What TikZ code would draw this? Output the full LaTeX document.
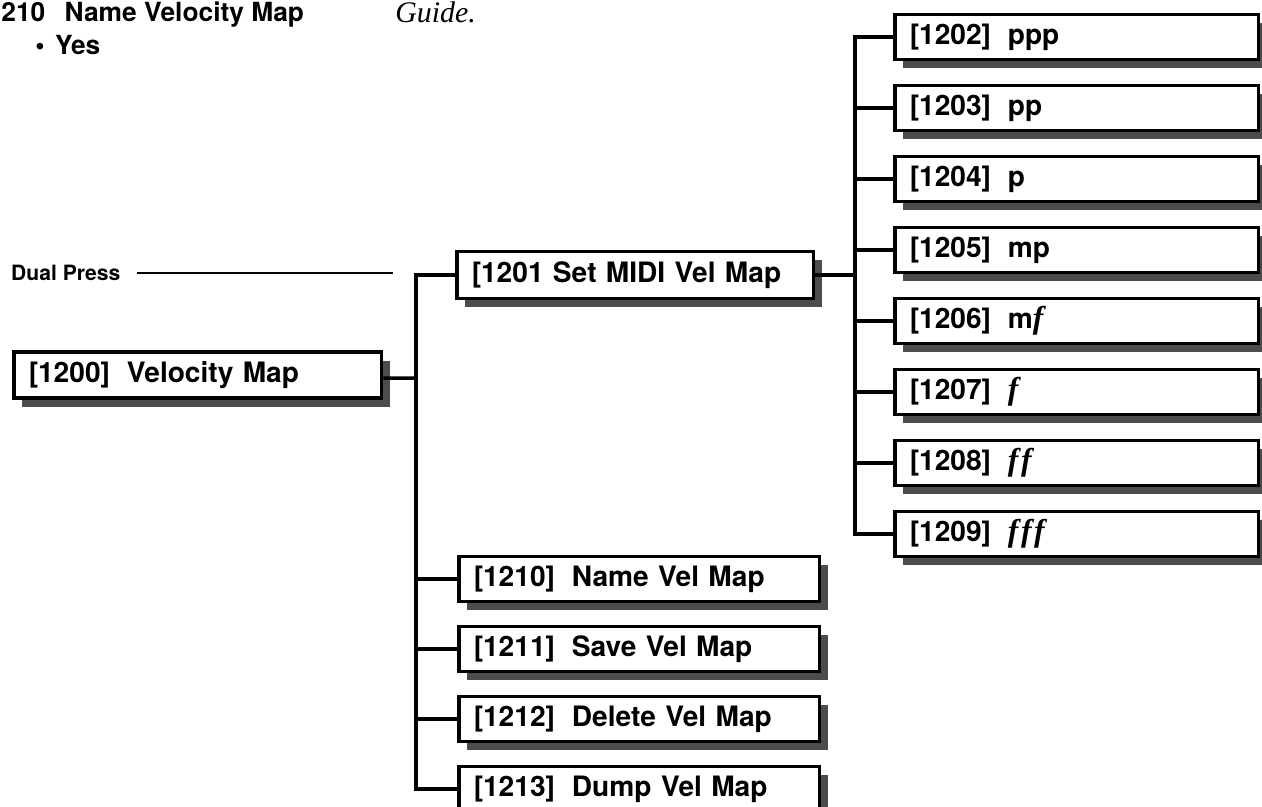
\documentclass[tikz,border=0pt]{standalone}
\usepackage{fontspec}
\setmainfont{TeX Gyre Heros}
\newfontfamily\dynfont{Liberation Serif}[Ligatures=NoCommon]
\usepackage{tikz}
\usetikzlibrary{positioning,shadows}
\newcommand{\dyn}[1]{{\dynfont\bfseries\itshape\fontsize{18}{18}\selectfont #1}}
\newcommand{\gap}{\hspace{0.6em}}

\begin{document}
\begin{tikzpicture}[
  x=0.02cm, y=-0.02cm,
  menu/.style={draw, line width=2pt, fill=white, anchor=west,
    font=\fontsize{16}{18}\selectfont\bfseries, align=left,
    inner xsep=0.3cm, inner ysep=0pt, minimum height=0.9cm,
    drop shadow={shadow xshift=0.16cm, shadow yshift=-0.17cm,
      fill=black!70, opacity=1}},
  leaf/.style={menu, text width=6.68cm},
  tail/.style={menu, text width=6.62cm},
  head/.style={font=\fontsize{15}{17}\selectfont\bfseries, anchor=base west, inner sep=0pt},
  small/.style={font=\fontsize{12}{14}\selectfont\bfseries, anchor=west},
  link/.style={line width=2pt},
  node distance=0.45cm
]
  \useasboundingbox (0,0) rectangle (1262,806);

  % page text above the chart
  \node[head] (title) at (1,21) {210\hspace{11pt}Name Velocity Map};
  \node[head] (yes) at (35,54) {\textbullet\hspace{6pt}Yes};
  \node[head, font=\dynfont\itshape\fontsize{17}{19}\selectfont] (guide) at (395,22) {Guide.};

  \node[menu, text width=6.76cm, minimum height=0.92cm] (root) at (12,375) {[1200]\gap Velocity Map};
  \node[menu, text width=6.54cm, minimum height=0.94cm] (mid) at (455,275) {[1201 Set MIDI Vel Map};

  % dynamics column
  \node[leaf] (n1202) at (893,37) {[1202]\gap ppp};
  \node[leaf, below=of n1202.south west, anchor=north west] (n1203) {[1203]\gap pp};
  \node[leaf, below=of n1203.south west, anchor=north west] (n1204) {[1204]\gap p};
  \node[leaf, below=of n1204.south west, anchor=north west] (n1205) {[1205]\gap mp};
  \node[leaf, below=of n1205.south west, anchor=north west] (n1206) {[1206]\gap m\dyn{f}};
  \node[leaf, below=of n1206.south west, anchor=north west] (n1207) {[1207]\gap \dyn{f}};
  \node[leaf, below=of n1207.south west, anchor=north west] (n1208) {[1208]\gap \dyn{f\kern1.5pt f}};
  \node[leaf, below=of n1208.south west, anchor=north west] (n1209) {[1209]\gap \dyn{f\kern1.5pt f\kern1.5pt f}};

  % map utilities
  \node[tail] (n1210) at (457,579) {[1210]\gap Name Vel Map};
  \node[tail, below=0.43cm of n1210.south west, anchor=north west] (n1211) {[1211]\gap Save Vel Map};
  \node[tail, below=0.43cm of n1211.south west, anchor=north west] (n1212) {[1212]\gap Delete Vel Map};
  \node[tail, below=0.43cm of n1212.south west, anchor=north west] (n1213) {[1213]\gap Dump Vel Map};

  \coordinate (trunkA) at (416,378);
  \coordinate (trunkB) at (855,275);
  \draw[link] ([yshift=-0.06cm]root.east) -- (trunkA);
  \foreach \n in {mid,n1210,n1211,n1212,n1213}
    \draw[link] (\n.west) -| (trunkA);
  \draw[link] (mid.east) -- (trunkB);
  \foreach \n in {n1202,n1203,n1204,n1205,n1206,n1207,n1208,n1209}
    \draw[link] (\n.west) -| (trunkB);

  \node[small] (dual) at (5,273) {Dual Press};
  \coordinate (dualend) at (393,273);
  \draw[line width=1.2pt] ([xshift=0.22cm]dual.east) -- (dualend);
\end{tikzpicture}
\end{document}
